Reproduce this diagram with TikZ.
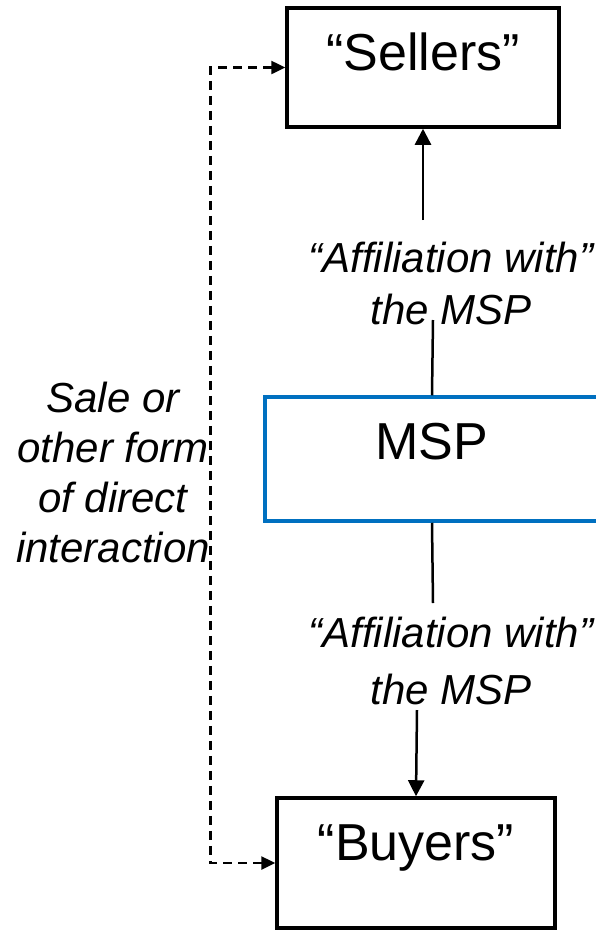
\documentclass[tikz,border=0pt]{standalone}
\usepackage{fontspec}
\setmainfont{Liberation Sans}
\usepackage{tikz}
\usetikzlibrary{arrows.meta}
\definecolor{mspblue}{HTML}{0070C0}

\begin{document}
\begin{tikzpicture}[x=1pt, y=-1pt,
    sidebox/.style={draw, line width=3.5pt, inner sep=0pt, text height=62pt,
        font=\fontsize{52}{62}\selectfont},
    tag/.style={align=center, inner sep=0pt, font=\itshape\fontsize{42}{52}\selectfont},
    link/.style={line width=2.5pt},
    linkarrow/.style={line width=2.5pt, -{Triangle[width=16pt,length=16pt]}},
    direct/.style={line width=2.5pt, dash pattern=on 9pt off 6pt,
        {Triangle[width=13pt,length=14pt]}-{Triangle[width=13pt,length=14pt]}}]
    \useasboundingbox (0,0) rectangle (596,930);
    % the three parties
    \node[sidebox, minimum width=272pt, text depth=57pt] (sellers) at (423,67.5) {“Sellers”};
    \node[sidebox, draw=mspblue, minimum width=334pt, text depth=62pt] (msp) at (432,459) {MSP};
    \node[sidebox, minimum width=278pt, text depth=68pt] (buyers) at (416,863) {“Buyers”};
    % labels
    \node[tag] (affup) at (451,283.5) {“Affiliation with”\\the MSP};
    \node[tag, font=\itshape\fontsize{42}{57}\selectfont] (affdown) at (451,661) {“Affiliation with”\\the MSP};
    \node[tag, font=\itshape\fontsize{42}{50}\selectfont] (sale) at (113,472) {Sale or\\other form\\of direct\\interaction};
    % ends of the broken links
    \coordinate (upstart) at (423,220);
    \coordinate (upend) at (433,320);
    \coordinate (downend) at (433,603);
    \coordinate (downstart) at (417,710);
    \draw[linkarrow] (upstart) -- (sellers.south);
    \draw[link] (msp.north) -- (upend);
    \draw[link] (msp.south) -- (downend);
    \draw[linkarrow] (downstart) -- (buyers.north);
    \draw[direct] (sellers.west) -- ++(-75,0) |- (buyers.west);
\end{tikzpicture}
\end{document}
